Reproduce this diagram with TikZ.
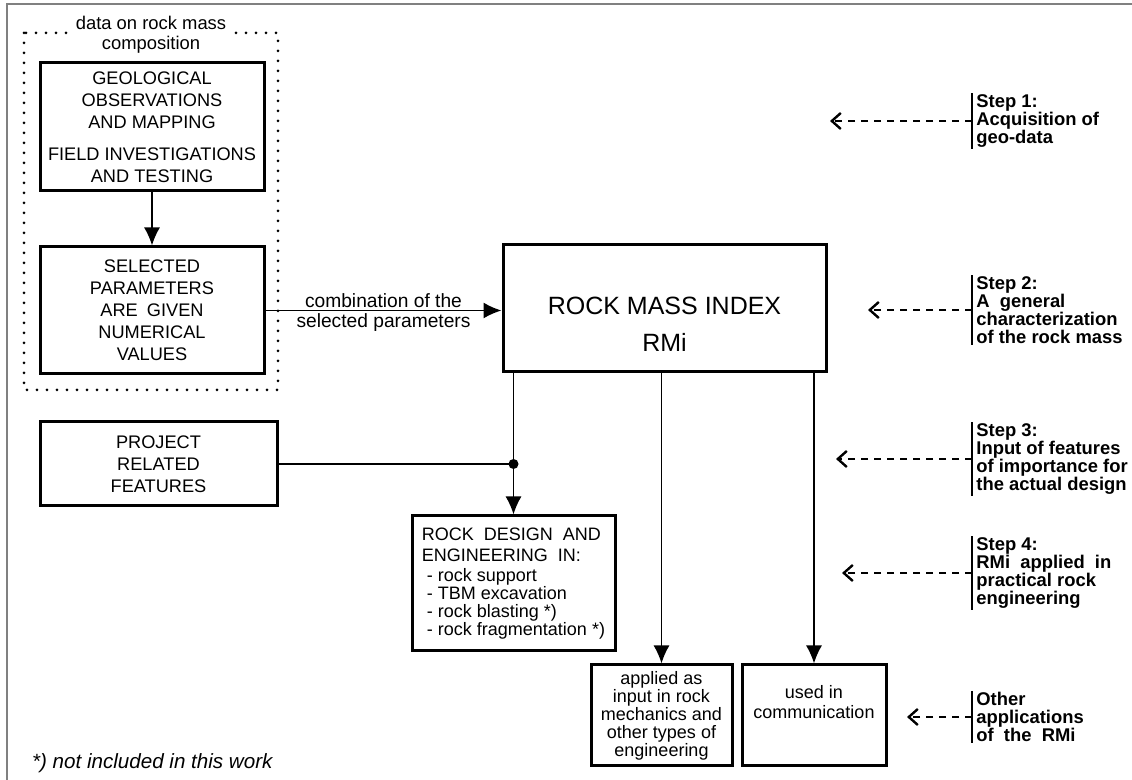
\documentclass[tikz,border=0pt]{standalone}
\usepackage{fontspec}
\setmainfont{Liberation Sans}
\usepackage{tikz}
\usetikzlibrary{arrows.meta}

\begin{document}
\begin{tikzpicture}
	[x=0.5pt,y=-0.5pt,
	box/.style={draw,line width=1.5pt,align=center,inner sep=0pt,font=\fontsize{9.1}{11}\selectfont},
	conn/.style={line width=0.8pt,-{Latex[length=9pt,width=8pt]}},
	steplink/.style={line width=0.9pt,dash pattern=on 3.5pt off 3pt,-{Straight Barb[length=4.5pt,width=8pt,line width=1.2pt]}},
	steptext/.style={anchor=west,align=left,inner xsep=2pt,inner ysep=0.5pt,font=\fontsize{9.2}{9}\selectfont\bfseries},
	small/.style={font=\fontsize{9.6}{10}\selectfont,inner sep=1pt}]

	\useasboundingbox (0,0) rectangle (1132,780);
	\draw[gray,line width=1pt] (7,780) |- (1132,4);

	% data on rock mass composition
	\draw[line width=1.5pt,line cap=round,dash pattern=on 0pt off 5pt] (24,33) rectangle (278,390);
	\node[fill=white,inner xsep=2pt,inner ysep=0pt,align=center,font=\fontsize{9.2}{10}\selectfont] (grouplabel) at (151,35) {data on rock mass\\composition};

	\node[box,minimum width=112pt,minimum height=64pt] (geo) at (152,127)
		{GEOLOGICAL\\OBSERVATIONS\\AND MAPPING\\[5pt]FIELD INVESTIGATIONS\\AND TESTING};
	\node[box,minimum width=112pt,minimum height=63.5pt] (sel) at (152,310.5)
		{SELECTED\\PARAMETERS\\ARE\enspace GIVEN\\NUMERICAL\\VALUES};

	% RMi
	\node[box,minimum width=161.5pt,minimum height=63.5pt] (rmi) at (664.5,308.5) {};
	\node[align=center,font=\fontsize{12.5}{18.5}\selectfont] (rmitext) at (664.5,324) {ROCK MASS INDEX\\RMi};

	\node[box,minimum width=118.5pt,minimum height=42pt] (proj) at (158.5,464)
		{PROJECT\\RELATED\\FEATURES};
	\node[box,minimum width=101.5pt,minimum height=67.5pt,align=left,font=\fontsize{9}{9}\selectfont] (design) at (513.5,583.5)
		{ROCK\ \ DESIGN\ \ AND\\[1.5pt]ENGINEERING\ \ IN:\\[1pt]\ - rock support\\\ - TBM excavation\\\ - rock blasting *)\\\ - rock fragmentation *)};
	\node[box,minimum width=70.5pt,minimum height=50.5pt,font=\fontsize{9}{9}\selectfont] (applied) at (661.5,715.5)
		{applied as\\input in rock\\mechanics and\\other types of\\engineering};
	\node[box,minimum width=72pt,minimum height=50.5pt,font=\fontsize{9}{10}\selectfont] (used) at (814,715.5)
		{used in\\communication\\[4pt]};

	\draw[conn] (geo) -- (sel);
	\draw[conn] (sel.east) -- (sel.east -| rmi.west)
		node[midway,above,small] {combination of the}
		node[midway,below,small] {selected parameters};
	\draw[line width=0.8pt] (proj.east) -- (proj.east -| design.north) coordinate (join);
	\fill (join) circle (2.5pt);
	\draw[conn] (rmi.south -| design.north) -- (design.north);
	\draw[conn] (rmi.south -| applied.north) -- (applied.north);
	\draw[conn] (rmi.south -| used.north) -- (used.north);

	% steps
	\node[steptext] (s1) at (972,121) {Step 1:\\Acquisition of\\geo-data};
	\node[steptext] (s2) at (972,310) {Step 2:\\A\ \ general\\characterization\\of the rock mass};
	\node[steptext] (s3) at (972,459) {Step 3:\\Input of features\\of importance for\\the actual design};
	\node[steptext] (s4) at (972,573) {Step 4:\\RMi\ \ applied\ \ in\\practical rock\\engineering};
	\node[steptext] (s5) at (972,717) {Other\\applications\\of\ \ the\ \ RMi};
	\foreach \s/\x in {s1/830,s2/868,s3/836,s4/842,s5/907}{
		\draw[line width=0.6pt] (\s.north west) -- (\s.south west);
		\draw[steplink] (\s.west) -- (\x,0 |- \s.west);
	}

	\node[anchor=west,font=\fontsize{10.3}{12}\selectfont\itshape] (note) at (25,763) {*) not included in this work};
\end{tikzpicture}
\end{document}
